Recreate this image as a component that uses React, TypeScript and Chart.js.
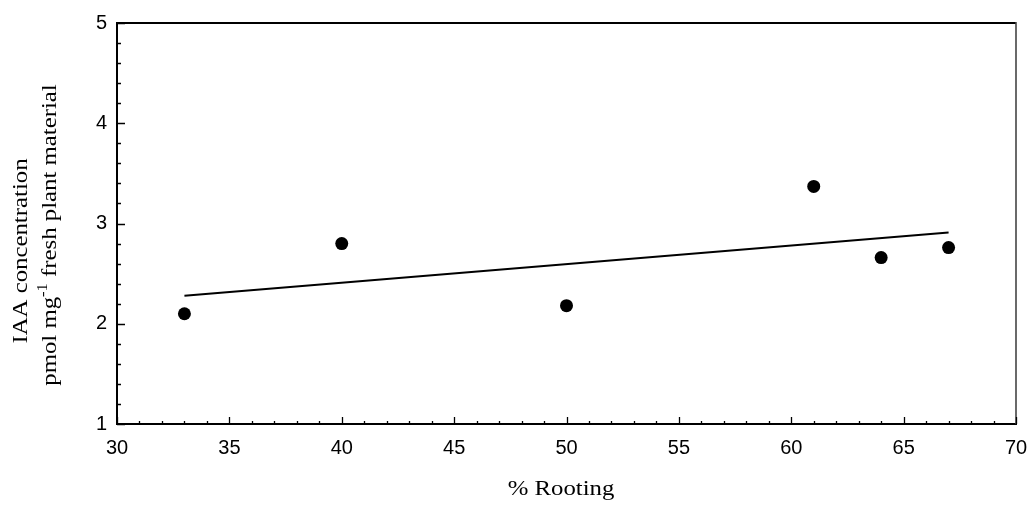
import React, { useEffect, useRef } from "react";
import { Chart, registerables } from "chart.js";

Chart.register(...registerables);

// Measured samples: % rooting vs. IAA concentration
const rootingPct = [33, 40, 50, 61, 64, 67];
const iaaConc = [2.1, 2.8, 2.18, 3.37, 2.66, 2.76];

// Least-squares fit line end points
const fitX = [33, 67];
const fitY = [2.28, 2.91];

// Axis tick labels
const xTickLabels = [30, 35, 40, 45, 50, 55, 60, 65, 70];
const yTickLabels = [1, 2, 3, 4, 5];

const xTitle = "% Rooting";
const yTitleLine1 = "IAA concentration";
const yTitleLine2a = "pmol mg";
const yTitleSup = "-1";
const yTitleLine2b = "fresh plant material";

const SERIF = "'Liberation Serif', 'Times New Roman', serif";
const SANS = "'Liberation Sans', Arial, sans-serif";

const framePlugin = {
  id: "frameAndTicks",
  beforeDatasetsDraw(chart: any) {
    const { ctx, chartArea: a, scales } = chart;
    const xs = scales.x;
    const ys = scales.y;
    ctx.save();
    ctx.strokeStyle = "#000";
    ctx.lineCap = "butt";

    // frame
    ctx.lineWidth = 2;
    ctx.beginPath();
    ctx.moveTo(a.left, a.top);
    ctx.lineTo(a.right, a.top);
    ctx.moveTo(a.left, a.top - 1);
    ctx.lineTo(a.left, a.bottom + 1);
    ctx.moveTo(a.left - 1, a.bottom);
    ctx.lineTo(a.right + 1, a.bottom);
    ctx.stroke();
    ctx.strokeStyle = "#444";
    ctx.lineWidth = 1.6;
    ctx.beginPath();
    ctx.moveTo(a.right, a.top - 1);
    ctx.lineTo(a.right, a.bottom);
    ctx.stroke();

    ctx.strokeStyle = "#000";
    ctx.lineWidth = 1.3;
    ctx.beginPath();
    // y ticks: minor every 0.2, major every 1, pointing inward
    for (let i = 0; i <= 20; i++) {
      const v = 1 + i * 0.2;
      const py = Math.round(ys.getPixelForValue(v)) + 0.5;
      const len = i % 5 === 0 ? 8 : 4;
      ctx.moveTo(a.left, py);
      ctx.lineTo(a.left + len, py);
    }
    // x ticks: minor every 1, major every 5, pointing inward
    for (let v = 30; v <= 70; v++) {
      const px = Math.round(xs.getPixelForValue(v)) + 0.5;
      const len = v % 5 === 0 ? 7 : 3;
      ctx.moveTo(px, a.bottom);
      ctx.lineTo(px, a.bottom - len);
    }
    ctx.stroke();
    ctx.restore();
  },
  afterDraw(chart: any) {
    const { ctx } = chart;
    const stretch = 1.18;
    ctx.save();
    ctx.fillStyle = "#000";
    ctx.textBaseline = "alphabetic";

    // x title
    ctx.font = `21px ${SERIF}`;
    const wx = ctx.measureText(xTitle).width * stretch;
    ctx.save();
    ctx.translate(561 - wx / 2, 495);
    ctx.scale(stretch, 1);
    ctx.fillText(xTitle, 0, 0);
    ctx.restore();

    // y title, line 1
    ctx.save();
    ctx.translate(27, 251);
    ctx.rotate(-Math.PI / 2);
    ctx.scale(stretch, 1);
    ctx.font = `21px ${SERIF}`;
    const w1 = ctx.measureText(yTitleLine1).width;
    ctx.fillText(yTitleLine1, -w1 / 2, 0);
    ctx.restore();

    // y title, line 2 with superscript
    ctx.save();
    ctx.translate(56, 235);
    ctx.rotate(-Math.PI / 2);
    ctx.scale(stretch, 1);
    ctx.font = `21px ${SERIF}`;
    const wa = ctx.measureText(yTitleLine2a).width;
    const wb = ctx.measureText(" " + yTitleLine2b).width;
    ctx.font = `14px ${SERIF}`;
    const ws = ctx.measureText(yTitleSup).width;
    const total = wa + ws + wb;
    let cx = -total / 2;
    ctx.font = `21px ${SERIF}`;
    ctx.fillText(yTitleLine2a, cx, 0);
    cx += wa;
    ctx.font = `14px ${SERIF}`;
    ctx.fillText(yTitleSup, cx, -9);
    cx += ws;
    ctx.font = `21px ${SERIF}`;
    ctx.fillText(" " + yTitleLine2b, cx, 0);
    ctx.restore();

    ctx.restore();
  },
};

export default function App() {
  const canvasRef = useRef<HTMLCanvasElement | null>(null);

  useEffect(() => {
    const canvas = canvasRef.current;
    if (!canvas) return;
    const chart = new Chart(canvas, {
      type: "scatter",
      data: {
        datasets: [
          {
            label: "samples",
            data: rootingPct.map((x, i) => ({ x, y: iaaConc[i] })),
            backgroundColor: "#000",
            borderColor: "#000",
            pointRadius: 6.5,
            pointHoverRadius: 6.5,
            pointBorderWidth: 0,
          },
          {
            label: "fit",
            data: fitX.map((x, i) => ({ x, y: fitY[i] })),
            showLine: true,
            borderColor: "#000",
            borderWidth: 2,
            pointRadius: 0,
            fill: false,
          } as any,
        ],
      },
      options: {
        animation: false,
        responsive: false,
        devicePixelRatio: 1,
        layout: { padding: { top: 23, right: 17, left: 0, bottom: 0 } },
        plugins: {
          legend: { display: false },
          tooltip: { enabled: false },
        },
        scales: {
          x: {
            type: "linear",
            min: 30,
            max: 70,
            afterBuildTicks: (s: any) => {
              s.ticks = xTickLabels.map((v) => ({ value: v }));
            },
            afterFit: (s: any) => {
              s.height = 82;
              s.paddingLeft = 0;
              s.paddingRight = 0;
            },
            grid: { display: false, drawTicks: false },
            border: { display: false },
            ticks: {
              color: "#000",
              padding: 12,
              maxRotation: 0,
              autoSkip: false,
              font: { family: SANS, size: 20 },
            },
          },
          y: {
            type: "linear",
            min: 1,
            max: 5,
            afterBuildTicks: (s: any) => {
              s.ticks = yTickLabels.map((v) => ({ value: v }));
            },
            afterFit: (s: any) => {
              s.width = 117;
              s.paddingTop = 0;
              s.paddingBottom = 0;
            },
            grid: { display: false, drawTicks: false },
            border: { display: false },
            ticks: {
              color: "#000",
              padding: 10,
              autoSkip: false,
              font: { family: SANS, size: 20 },
            },
          },
        },
      },
      plugins: [framePlugin],
    });
    return () => chart.destroy();
  }, []);

  return (
    <canvas
      ref={canvasRef}
      width={1033}
      height={506}
      style={{ position: "absolute", left: 0, top: 0, width: 1033, height: 506, background: "#fff" }}
    />
  );
}
